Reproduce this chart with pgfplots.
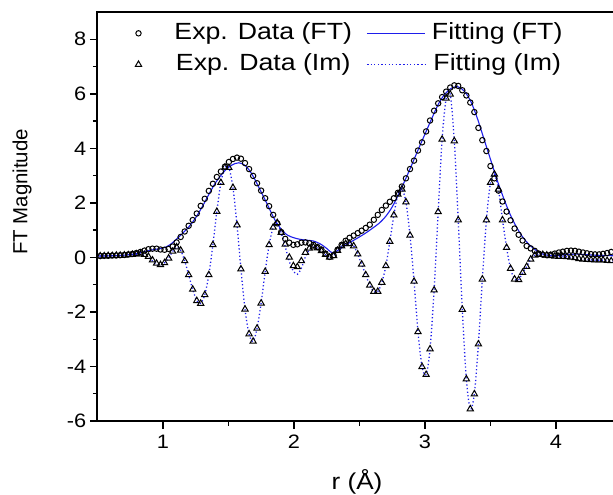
\documentclass[border=0pt]{standalone}
\usepackage{pgfplots}
\pgfplotsset{compat=1.18}
\usepackage{pgfplotstable}
\usepackage{fontspec}
\setmainfont{Liberation Sans}
\newfontfamily\legfont{Liberation Sans}[FakeStretch=1.14]
\newfontfamily\tickfont{Liberation Sans}[FakeStretch=1.12]
\definecolor{fitblue}{RGB}{30,30,235}

\pgfplotstableread{
r ft im imfit
0.491 0.05 0.05 0.05
0.522 0.05 0.05 0.05
0.553 0.06 0.05 0.05
0.583 0.06 0.06 0.06
0.614 0.07 0.06 0.06
0.645 0.07 0.07 0.07
0.675 0.08 0.07 0.07
0.706 0.09 0.08 0.08
0.737 0.11 0.09 0.09
0.768 0.13 0.10 0.10
0.798 0.16 0.12 0.12
0.829 0.20 0.12 0.12
0.860 0.25 0.10 0.08
0.890 0.30 0.03 0.00
0.921 0.32 -0.10 -0.13
0.952 0.32 -0.22 -0.25
0.982 0.29 -0.27 -0.28
1.013 0.28 -0.20 -0.20
1.044 0.31 -0.03 -0.02
1.075 0.40 0.22 0.22
1.105 0.55 0.38 0.38
1.136 0.75 0.26 0.26
1.167 0.95 -0.13 -0.13
1.197 1.16 -0.64 -0.64
1.228 1.37 -1.17 -1.17
1.259 1.61 -1.59 -1.59
1.289 1.89 -1.69 -1.69
1.320 2.15 -1.37 -1.37
1.351 2.44 -0.64 -0.64
1.382 2.70 0.46 0.46
1.412 2.95 1.68 1.68
1.443 3.15 2.74 2.74
1.474 3.33 3.30 3.30
1.504 3.50 3.29 3.29
1.535 3.61 2.56 2.56
1.566 3.66 1.19 1.19
1.596 3.62 -0.43 -0.43
1.627 3.46 -1.90 -1.90
1.658 3.24 -2.81 -2.81
1.689 2.99 -3.08 -3.08
1.719 2.72 -2.60 -2.60
1.750 2.45 -1.68 -1.68
1.781 2.17 -0.52 -0.52
1.811 1.88 0.46 0.46
1.842 1.56 1.10 1.10
1.873 1.25 1.27 1.27
1.903 0.93 0.91 0.91
1.934 0.68 0.48 0.40
1.965 0.54 0.00 -0.15
1.996 0.46 -0.31 -0.50
2.026 0.48 -0.35 -0.62
2.057 0.54 -0.13 -0.40
2.088 0.55 0.18 0.02
2.118 0.52 0.33 0.28
2.149 0.46 0.38 0.38
2.180 0.38 0.34 0.34
2.210 0.29 0.24 0.24
2.241 0.14 0.10 0.10
2.272 0.02 0.00 0.00
2.303 0.08 0.06 0.06
2.333 0.28 0.25 0.25
2.364 0.46 0.42 0.42
2.395 0.61 0.50 0.50
2.425 0.72 0.50 0.50
2.456 0.80 0.42 0.42
2.487 0.89 0.12 0.12
2.517 0.98 -0.25 -0.25
2.548 1.08 -0.64 -0.64
2.579 1.20 -1.02 -1.02
2.610 1.38 -1.25 -1.25
2.640 1.56 -1.25 -1.25
2.671 1.74 -0.92 -0.92
2.702 1.90 -0.31 -0.31
2.732 2.04 0.58 0.58
2.763 2.17 1.55 1.55
2.794 2.37 2.31 2.31
2.824 2.60 2.50 2.50
2.855 2.90 2.03 2.03
2.886 3.24 0.81 0.81
2.917 3.55 -0.88 -0.88
2.947 3.92 -2.73 -2.73
2.978 4.22 -4.01 -4.01
3.009 4.62 -4.30 -4.30
3.039 5.02 -3.36 -3.36
3.070 5.38 -1.20 -1.20
3.101 5.65 1.67 1.67
3.131 5.88 4.33 4.33
3.162 6.08 5.83 5.83
3.193 6.23 5.98 5.98
3.224 6.31 4.27 4.27
3.254 6.29 1.37 1.37
3.285 6.13 -1.91 -1.91
3.316 5.94 -4.46 -4.46
3.346 5.68 -5.56 -5.56
3.377 5.33 -5.01 -5.01
3.408 4.75 -3.18 -3.18
3.438 4.30 -0.80 -0.80
3.469 3.90 1.37 1.37
3.500 3.35 2.74 2.74
3.530 2.90 3.05 3.05
3.561 2.45 2.50 2.50
3.592 2.05 1.37 1.37
3.623 1.68 0.36 0.36
3.653 1.36 -0.41 -0.41
3.684 1.06 -0.80 -0.80
3.715 0.83 -0.82 -0.82
3.745 0.62 -0.56 -0.56
3.776 0.42 -0.34 -0.34
3.807 0.33 -0.07 -0.07
3.838 0.24 0.08 0.08
3.868 0.14 0.10 0.10
3.899 0.10 0.10 0.10
3.930 0.08 0.08 0.08
3.960 0.10 0.06 0.06
3.991 0.14 0.04 0.04
4.022 0.18 0.03 0.03
4.052 0.21 0.03 0.03
4.083 0.24 0.02 0.02
4.114 0.25 0.00 0.00
4.145 0.24 -0.02 -0.02
4.175 0.21 -0.05 -0.05
4.206 0.18 -0.07 -0.07
4.237 0.15 -0.08 -0.08
4.267 0.12 -0.09 -0.09
4.298 0.11 -0.10 -0.10
4.329 0.11 -0.10 -0.10
4.359 0.13 -0.10 -0.10
4.390 0.16 -0.12 -0.12
4.421 0.20 -0.13 -0.13
4.452 0.22 -0.14 -0.14
}\expdata

\pgfplotstableread{
r fit
0.49 0.05
0.60 0.06
0.70 0.08
0.80 0.14
0.85 0.20
0.90 0.26
0.95 0.30
1.00 0.34
1.05 0.45
1.10 0.65
1.15 0.88
1.20 1.13
1.25 1.45
1.30 1.85
1.35 2.30
1.40 2.72
1.45 3.05
1.50 3.30
1.55 3.44
1.58 3.47
1.62 3.40
1.66 3.20
1.70 2.88
1.75 2.40
1.80 1.92
1.85 1.42
1.90 1.05
1.95 0.82
2.00 0.72
2.05 0.66
2.10 0.63
2.15 0.60
2.20 0.50
2.25 0.33
2.28 0.20
2.30 0.17
2.35 0.30
2.40 0.47
2.45 0.61
2.50 0.75
2.55 0.90
2.60 1.07
2.65 1.25
2.70 1.50
2.75 1.85
2.80 2.32
2.85 2.85
2.90 3.40
2.95 3.97
3.00 4.52
3.05 5.07
3.10 5.60
3.15 5.98
3.20 6.20
3.25 6.26
3.30 6.10
3.35 5.72
3.40 5.10
3.45 4.35
3.50 3.60
3.55 2.85
3.60 2.18
3.65 1.58
3.70 1.10
3.75 0.72
3.80 0.45
3.85 0.25
3.90 0.12
3.95 0.07
4.00 0.07
4.05 0.09
4.10 0.11
4.15 0.12
4.20 0.11
4.30 0.08
4.45 0.06
}\ftfit

\begin{document}
\begin{tikzpicture}
\begin{axis}[
  name=ax,
  at={(0,0)}, anchor=south west,
  scale only axis, width=515.7bp, height=409bp,
  xmin=0.5, xmax=4.435, ymin=-6, ymax=9,
  axis line style={draw=none},
  xtick={1,2,3,4}, ytick={-6,-4,...,8},
  minor tick num=1,
  tick align=outside, xtick pos=bottom, ytick pos=left,
  major tick length=7.5bp, minor tick length=4.5bp,
  every tick/.style={black, line width=1.4bp},
  tick label style={font=\tickfont\fontsize{19.5}{22}\selectfont},
  xticklabel style={yshift=-3bp},
  /pgf/number format/assume math mode=true,
  xlabel={r (Å)},
  xlabel style={at={(axis description cs:0.5036,-0.149)}, anchor=center, font=\legfont\fontsize{23}{26}\selectfont},
  ylabel={FT Magnitude},
  ylabel style={at={(axis description cs:-0.146,0.56)}, anchor=center, font=\fontsize{20.5}{24}\selectfont},
  legend columns=2,
  legend image code/.code={\pgfpathrectangle{\pgfpoint{0bp}{-3bp}}{\pgfpoint{58bp}{6bp}}\pgfusepath{use as bounding box}\draw[mark repeat=2,mark phase=2,#1] plot coordinates {(0bp,0bp) (29bp,0bp) (58bp,0bp)};},
  legend style={draw=none, fill=none, at={(axis description cs:0,1)}, anchor=north west,
    xshift=12.2bp, yshift=-10.3bp,
    font=\legfont\fontsize{23.5}{26}\selectfont, inner sep=0pt, outer sep=0pt,
    nodes={inner sep=0pt, text height=17bp, text depth=5bp},
    row sep=9.2bp,
    /tikz/every odd column/.append style={column sep=7bp},
    /tikz/every even column/.append style={column sep=15bp}},
]
\addplot[only marks, mark=o, mark size=2.7bp, mark options={line width=1bp, black}] table[x=r, y=ft] {\expdata};
\addlegendentry{Exp. Data (FT)}
\addplot[fitblue, line width=1.1bp, smooth, no marks] table[x=r, y=fit] {\ftfit};
\addlegendentry{Fitting (FT)}
\addplot[only marks, mark=triangle, mark size=3.6bp, mark options={line width=1bp, black}] table[x=r, y=im] {\expdata};
\addlegendentry{Exp. Data (Im)}
\addplot[fitblue, line width=1.3bp, dash pattern=on 1.2bp off 2.4bp, smooth, no marks] table[x=r, y=imfit] {\expdata};
\addlegendentry{Fitting (Im)}
\end{axis}
\draw[line width=1.6bp, black] (ax.north east) -- (ax.north west) -- (ax.south west) -- (ax.south east);
\pgfresetboundingbox
\path[use as bounding box] (-97.3bp,-74bp) rectangle (515.7bp,421bp);
\end{tikzpicture}
\end{document}
